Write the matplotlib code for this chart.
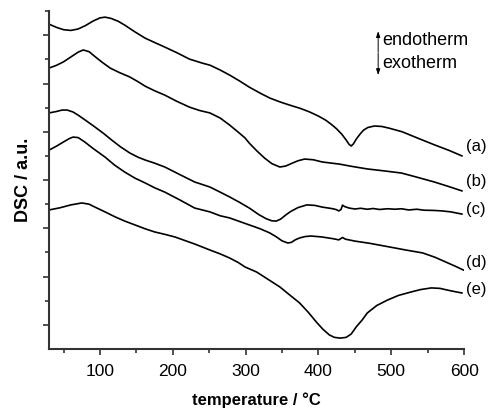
import matplotlib
matplotlib.use('Agg')
import matplotlib.pyplot as plt

plt.rcParams['font.family'] = ['Liberation Sans', 'DejaVu Sans']

# DSC traces, temperature in degC, signal in arbitrary units (offset per sample)
t_a = [30, 40, 50, 60, 70, 80, 90, 100, 107, 115, 125, 134, 148, 162, 175, 189, 206, 223,
       240, 251, 265, 278, 292, 305, 320, 333, 347, 360, 375, 388, 400, 410, 418, 425, 432,
       438, 442, 445, 448, 452, 457, 462, 468, 477, 487, 497, 515, 536, 560, 580, 597]
dsc_a = [13.46, 13.33, 13.23, 13.20, 13.26, 13.40, 13.58, 13.72, 13.75, 13.70, 13.58, 13.42,
         13.14, 12.88, 12.70, 12.51, 12.27, 12.01, 11.85, 11.76, 11.56, 11.35, 11.10, 10.85,
         10.60, 10.40, 10.24, 10.11, 9.97, 9.82, 9.65, 9.48, 9.30, 9.12, 8.90, 8.66, 8.48,
         8.41, 8.50, 8.70, 8.90, 9.07, 9.18, 9.24, 9.22, 9.15, 9.00, 8.74, 8.45, 8.22, 8.00]

t_b = [30, 40, 50, 60, 70, 77, 85, 93, 103, 114, 127, 141, 152, 162, 175, 189, 205, 223,
       237, 251, 265, 278, 290, 299, 305, 315, 326, 336, 347, 355, 364, 372, 381, 393, 405,
       418, 429, 445, 467, 490, 514, 535, 559, 580, 597]
dsc_b = [11.64, 11.75, 11.90, 12.10, 12.30, 12.39, 12.32, 12.12, 11.88, 11.64, 11.45, 11.27,
         11.08, 10.89, 10.70, 10.52, 10.27, 10.02, 9.88, 9.78, 9.57, 9.28, 8.98, 8.75, 8.53,
         8.22, 7.91, 7.68, 7.54, 7.58, 7.70, 7.80, 7.87, 7.84, 7.75, 7.70, 7.66, 7.57, 7.46,
         7.38, 7.29, 7.12, 6.92, 6.72, 6.55]

t_c = [30, 40, 48, 55, 63, 70, 80, 93, 105, 116, 128, 141, 152, 162, 175, 189, 210, 230,
       251, 265, 278, 292, 305, 318, 328, 336, 342, 348, 355, 362, 372, 384, 395, 405, 418,
       424, 428, 431, 433, 436, 442, 450, 458, 467, 475, 484, 495, 505, 514, 524, 535, 545,
       559, 570, 582, 597]
dsc_c = [9.78, 9.84, 9.90, 9.90, 9.82, 9.69, 9.48, 9.20, 8.93, 8.66, 8.38, 8.12, 7.95, 7.83,
         7.70, 7.54, 7.22, 6.92, 6.71, 6.50, 6.30, 6.07, 5.84, 5.57, 5.40, 5.31, 5.30, 5.38,
         5.55, 5.70, 5.86, 5.97, 5.95, 5.88, 5.82, 5.78, 5.72, 5.78, 5.96, 5.90, 5.84, 5.80,
         5.83, 5.79, 5.82, 5.78, 5.81, 5.79, 5.81, 5.76, 5.79, 5.75, 5.74, 5.72, 5.68, 5.59]

t_d = [30, 40, 50, 58, 63, 70, 79, 90, 107, 120, 134, 148, 162, 175, 189, 210, 230, 251,
       265, 278, 292, 305, 320, 333, 342, 350, 358, 363, 368, 374, 382, 390, 405, 420, 428,
       433, 437, 450, 470, 497, 520, 543, 560, 575, 590, 599]
dsc_d = [8.24, 8.40, 8.58, 8.72, 8.78, 8.76, 8.58, 8.32, 7.95, 7.62, 7.33, 7.08, 6.88, 6.68,
         6.50, 6.17, 5.84, 5.68, 5.52, 5.43, 5.28, 5.14, 4.98, 4.81, 4.65, 4.48, 4.39, 4.42,
         4.52, 4.60, 4.66, 4.68, 4.64, 4.57, 4.52, 4.62, 4.55, 4.47, 4.38, 4.23, 4.10, 3.98,
         3.80, 3.60, 3.40, 3.27]

t_e = [30, 45, 60, 75, 85, 93, 107, 121, 134, 148, 162, 175, 189, 203, 216, 230, 251, 265,
       278, 290, 299, 315, 330, 347, 360, 374, 386, 397, 406, 415, 422, 430, 438, 445, 452,
       460, 467, 480, 495, 510, 527, 540, 555, 567, 577, 590, 597]
dsc_e = [5.76, 5.85, 5.97, 6.05, 6.00, 5.88, 5.68, 5.47, 5.30, 5.14, 4.98, 4.85, 4.75, 4.64,
         4.50, 4.35, 4.10, 3.94, 3.77, 3.58, 3.40, 3.19, 2.90, 2.57, 2.25, 1.91, 1.52, 1.12,
         0.82, 0.58, 0.48, 0.45, 0.48, 0.62, 0.92, 1.20, 1.49, 1.80, 2.03, 2.22, 2.36, 2.46,
         2.53, 2.51, 2.44, 2.36, 2.32]

curves = [(t_a, dsc_a), (t_b, dsc_b), (t_c, dsc_c), (t_d, dsc_d), (t_e, dsc_e)]
labels = ['(a)', '(b)', '(c)', '(d)', '(e)']
label_y = [8.37, 6.92, 5.80, 3.60, 2.45]

fig = plt.figure(figsize=(4.93, 4.12), dpi=100)
ax = fig.add_axes([0.0994, 0.153, 0.842, 0.82])

for (t, y), lab, ly in zip(curves, labels, label_y):
    ax.plot(t, y, color='black', lw=1.2)
    ax.text(603, ly, lab, fontsize=12, va='center', ha='left', clip_on=False)

ax.set_xlim(30, 600)
ax.set_ylim(0, 14)
ax.set_xticks([100, 200, 300, 400, 500, 600])
ax.set_xticks([50, 150, 250, 350, 450, 550], minor=True)
ax.set_yticks([1, 3, 5, 7, 9, 11, 13])
ax.set_yticks([2, 4, 6, 8, 10, 12, 14], minor=True)
ax.set_yticklabels([])
ax.tick_params(axis='both', which='major', length=4.5, width=1.2, color='#333333',
               labelsize=12.5, pad=6)
ax.tick_params(axis='both', which='minor', length=3, width=1.2, color='#333333')
for side in ['top', 'right']:
    ax.spines[side].set_visible(False)
for side in ['left', 'bottom']:
    ax.spines[side].set_linewidth(1.5)
    ax.spines[side].set_color('#333333')

ax.set_xlabel('temperature / \u00b0C', fontsize=12, fontweight='bold', labelpad=10)
ax.set_ylabel('DSC / a.u.', fontsize=13, fontweight='bold', labelpad=2)

# endotherm / exotherm direction key
key_style = dict(arrowstyle='-|>,head_length=0.35,head_width=0.12', color='black', lw=0.7,
                 shrinkA=0, shrinkB=0)
ax.annotate('', xy=(482, 13.17), xytext=(482, 12.30), arrowprops=key_style)
ax.annotate('', xy=(482, 11.35), xytext=(482, 12.26), arrowprops=key_style)
ax.text(488, 12.80, 'endotherm', fontsize=13, va='center', ha='left')
ax.text(488, 11.85, 'exotherm', fontsize=13, va='center', ha='left')

fig.savefig('out.png', dpi=100)
